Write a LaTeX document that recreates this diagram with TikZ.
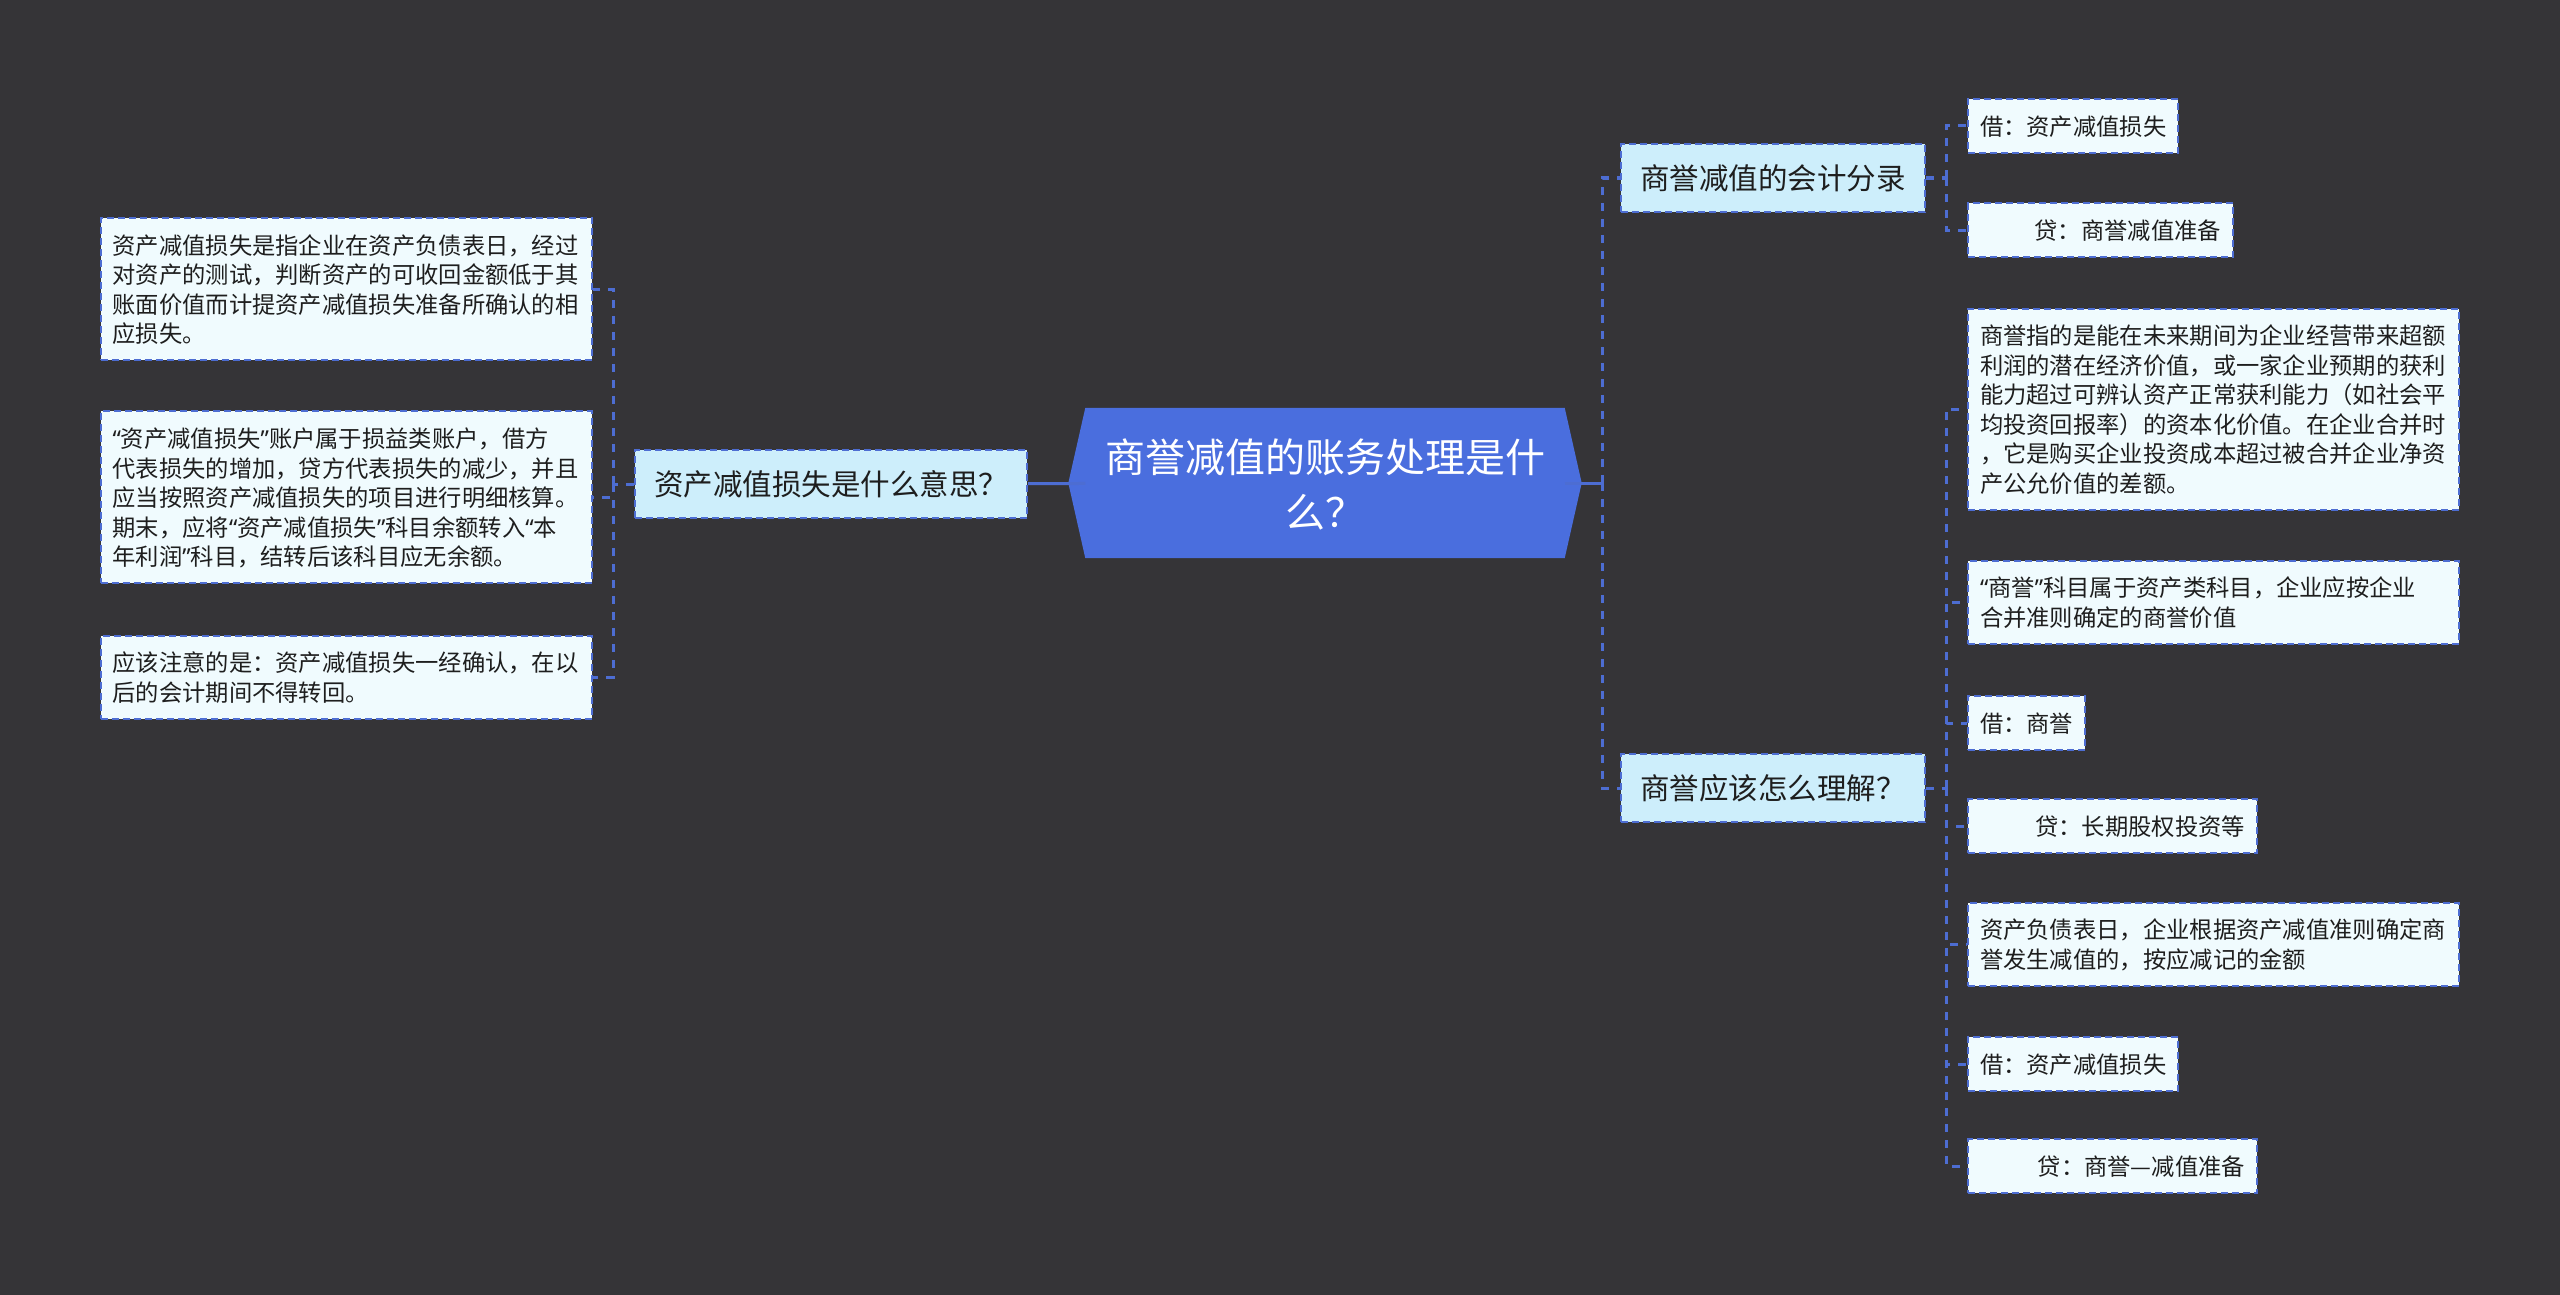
\documentclass[tikz,border=0pt]{standalone}
\usepackage{fontspec}
\setmainfont{Noto Sans CJK SC}
\newfontfamily\quotefont{Noto Sans}
\newcommand{\qopen}{{\quotefont “}}
\newcommand{\qclose}{{\quotefont ”}}
\usepackage{tikz}
\usetikzlibrary{backgrounds}
\definecolor{bgcol}{HTML}{353437}
\definecolor{rootfill}{HTML}{4A6EDE}
\definecolor{linecol}{HTML}{4D6DD2}
\definecolor{topicfill}{HTML}{CDEEFB}
\definecolor{leaffill}{HTML}{F0FBFE}
\definecolor{inkcol}{HTML}{1E1E1E}

\begin{document}
\begin{tikzpicture}[x=1pt,y=-1pt,
	root/.style={shape=rectangle,minimum width=479pt,minimum height=150pt,inner xsep=19.5pt,inner ysep=20pt,
		text width=440pt,align=center,text=white,font=\fontsize{40}{55}\selectfont,
		execute at begin node=\rule{0pt}{44.5pt},execute at end node=\rule[-10.5pt]{0pt}{10.5pt}},
	topic/.style={shape=rectangle,draw=linecol,fill=topicfill,line width=2pt,dash pattern=on 7pt off 4pt,
		inner xsep=19pt,inner ysep=16pt,text=inkcol,font=\fontsize{29.5}{36}\selectfont,
		execute at begin node=\rule{0pt}{29.2pt},execute at end node=\rule[-6.8pt]{0pt}{6.8pt}},
	leaf/.style={shape=rectangle,draw=linecol,fill=leaffill,line width=2pt,dash pattern=on 7pt off 4pt,
		inner xsep=12pt,inner ysep=12pt,text=inkcol,font=\fontsize{23.3}{29.5}\selectfont,
		execute at begin node=\rule{0pt}{24.3pt},execute at end node=\rule[-5.2pt]{0pt}{5.2pt}},
	para/.style={leaf,text width=467pt,align=left},
	credit/.style={leaf,text width=#1,align=right},
	link/.style={draw=linecol,line width=3pt,dash pattern=on 8pt off 8pt},
	rootlink/.style={draw=linecol,line width=3pt},
	elbow/.style={to path={|- (\tikztotarget)}}]
	\useasboundingbox (0,0) rectangle (2560,1295);

	\node[root] (0) at (1325,483) {商誉减值的账务处理是什\\么？};

	\node[topic] (1) at (831,484) {资产减值损失是什么意思？};
	\node[topic] (2) at (1773,178) {商誉减值的会计分录};
	\node[topic] (3) at (1773,788) {商誉应该怎么理解？};

	\node[para] (11) at (346,289) {资产减值损失是指企业在资产负债表日，经过\\对资产的测试，判断资产的可收回金额低于其\\账面价值而计提资产减值损失准备所确认的相\\应损失。};
	\node[para] (12) at (346,497) {\qopen 资产减值损失\qclose 账户属于损益类账户，借方\\代表损失的增加，贷方代表损失的减少，并且\\应当按照资产减值损失的项目进行明细核算。\\期末，应将\qopen 资产减值损失\qclose 科目余额转入\qopen 本\\年利润\qclose 科目，结转后该科目应无余额。};
	\node[para] (13) at (346,677) {应该注意的是：资产减值损失一经确认，在以\\后的会计期间不得转回。};

	\node[leaf,anchor=west] (21) at (1967,126) {借：资产减值损失};
	\node[credit=241pt,anchor=west] (22) at (1967,230) {贷：商誉减值准备};

	\node[para,anchor=west] (31) at (1967,409) {商誉指的是能在未来期间为企业经营带来超额\\利润的潜在经济价值，或一家企业预期的获利\\能力超过可辨认资产正常获利能力（如社会平\\均投资回报率）的资本化价值。在企业合并时\\，它是购买企业投资成本超过被合并企业净资\\产公允价值的差额。};
	\node[para,anchor=west] (32) at (1967,602) {\qopen 商誉\qclose 科目属于资产类科目，企业应按企业\\合并准则确定的商誉价值};
	\node[leaf,anchor=west] (33) at (1967,723) {借：商誉};
	\node[credit=265pt,anchor=west] (34) at (1967,826) {贷：长期股权投资等};
	\node[para,anchor=west] (35) at (1967,944) {资产负债表日，企业根据资产减值准则确定商\\誉发生减值的，按应减记的金额};
	\node[leaf,anchor=west] (36) at (1967,1064) {借：资产减值损失};
	\node[credit=265pt,anchor=west] (37) at (1967,1166) {贷：商誉—减值准备};

	\coordinate (t) at (1602,483);
	\coordinate (j1) at (613,484);
	\coordinate (j2) at (1946,178);
	\coordinate (j3) at (1946,788);

	\path[rootlink] (0) edge (1);
	\path[rootlink] (0) edge (t);
	\path[link] (t) edge[elbow] (2) edge[elbow] (3);

	\path[link] (1) edge (j1);
	\path[link] (j1) edge[elbow] (11) edge[elbow] (12) edge[elbow] (13);

	\path[link] (2) edge (j2);
	\path[link] (j2) edge[elbow] (21) edge[elbow] (22);

	\path[link] (3) edge (j3);
	\path[link] (j3) edge[elbow] (31) edge[elbow] (32) edge[elbow] (33) edge[elbow] (34)
		edge[elbow] (35) edge[elbow] (36) edge[elbow] (37);

	\begin{scope}[on background layer]
		\fill[bgcol] (0,0) rectangle (2560,1295);
		\fill[rootfill] ([xshift=-17pt]0.west) -- (0.north west) -- (0.north east)
			-- ([xshift=17pt]0.east) -- (0.south east) -- (0.south west) -- cycle;
	\end{scope}
\end{tikzpicture}
\end{document}
